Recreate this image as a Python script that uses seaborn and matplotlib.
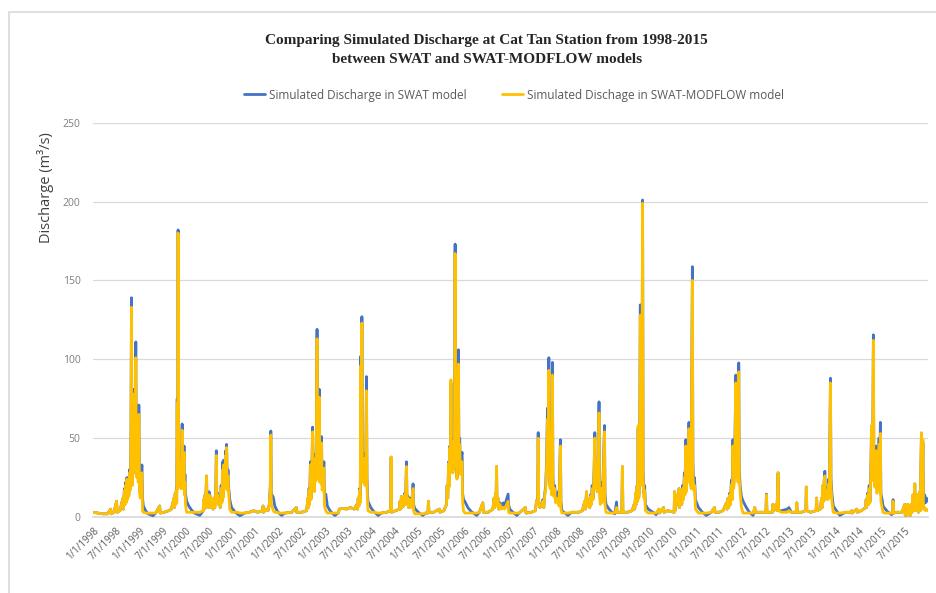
import matplotlib
matplotlib.use("Agg")
import matplotlib.pyplot as plt
from matplotlib.patches import Rectangle
from matplotlib.lines import Line2D
import pandas as pd
import seaborn as sns

# Simulated discharge (m3/s) at Cat Tan station, one line of values per year
dates = [
    "1998-01-01","1998-02-10","1998-03-20","1998-04-25","1998-05-20","1998-05-24","1998-06-15","1998-07-06","1998-07-10","1998-08-01","1998-08-25","1998-08-29","1998-09-05","1998-09-09","1998-09-15","1998-09-19","1998-09-25","1998-09-29","1998-10-05","1998-10-10","1998-10-16","1998-10-22","1998-10-27","1998-10-31","1998-11-03","1998-11-08","1998-11-14","1998-11-20","1998-11-24","1998-11-29","1998-12-04","1998-12-08","1998-12-13","1998-12-18","1998-12-23","1998-12-28",
    "1999-01-02","1999-01-08","1999-01-14","1999-01-21","1999-01-26","1999-02-01","1999-02-20","1999-03-10","1999-04-19","1999-05-10","1999-06-10","1999-06-14","1999-07-15","1999-08-20","1999-09-10","1999-10-01","1999-10-05","1999-10-10","1999-10-14","1999-10-19","1999-10-22","1999-10-26","1999-10-29","1999-11-02","1999-11-06","1999-11-10","1999-11-17","1999-11-24","1999-12-04","1999-12-09","1999-12-14","1999-12-19","1999-12-22","1999-12-26","1999-12-30",
    "2000-01-08","2000-01-25","2000-02-15","2000-03-10","2000-04-21","2000-05-18","2000-05-22","2000-05-26","2000-06-01","2000-06-05","2000-06-13","2000-06-17","2000-06-23","2000-06-28","2000-07-03","2000-07-07","2000-07-14","2000-07-20","2000-07-27","2000-08-03","2000-08-10","2000-08-17","2000-08-25","2000-08-29","2000-09-02","2000-09-08","2000-09-15","2000-09-22","2000-09-29","2000-10-06","2000-10-12","2000-10-18","2000-10-21","2000-10-25","2000-11-02","2000-11-10","2000-11-14","2000-11-18","2000-11-23","2000-11-29","2000-12-05","2000-12-13","2000-12-27",
    "2001-01-20","2001-02-10","2001-03-03","2001-04-10","2001-05-15","2001-06-20","2001-07-20","2001-08-25","2001-09-01","2001-09-05","2001-09-25","2001-10-10","2001-10-20","2001-10-28","2001-11-01","2001-11-05","2001-11-20","2001-12-02","2001-12-20",
    "2002-01-10","2002-01-25","2002-02-20","2002-04-15","2002-05-20","2002-05-24","2002-07-01","2002-08-10","2002-08-20","2002-08-24","2002-08-29","2002-09-02","2002-09-09","2002-09-13","2002-09-19","2002-09-26","2002-09-30","2002-10-05","2002-10-11","2002-10-17","2002-10-23","2002-10-31","2002-11-04","2002-11-10","2002-11-17","2002-11-21","2002-11-28","2002-12-05","2002-12-10","2002-12-16","2002-12-24","2002-12-28",
    "2003-01-08","2003-01-20","2003-02-10","2003-03-05","2003-03-20","2003-04-15","2003-04-25","2003-05-20","2003-06-20","2003-07-20","2003-08-20","2003-09-10","2003-09-15","2003-09-20","2003-09-25","2003-10-01","2003-10-06","2003-10-11","2003-10-15","2003-10-19","2003-10-23","2003-10-29","2003-11-05","2003-11-12","2003-11-18","2003-11-24","2003-11-28","2003-12-02","2003-12-06","2003-12-28",
    "2004-01-20","2004-02-24","2004-03-20","2004-05-01","2004-06-01","2004-06-05","2004-06-09","2004-07-10","2004-08-10","2004-08-14","2004-08-18","2004-08-25","2004-08-30","2004-09-05","2004-09-12","2004-09-20","2004-09-26","2004-10-04","2004-10-08","2004-10-15","2004-10-22","2004-10-30","2004-11-06","2004-11-15","2004-11-25","2004-11-29","2004-12-08",
    "2005-01-05","2005-02-10","2005-03-01","2005-03-22","2005-03-26","2005-03-30","2005-05-05","2005-06-20","2005-06-24","2005-07-25","2005-08-15","2005-08-20","2005-08-25","2005-09-01","2005-09-05","2005-09-11","2005-09-15","2005-09-19","2005-09-23","2005-09-29","2005-10-05","2005-10-11","2005-10-16","2005-10-22","2005-10-26","2005-11-01","2005-11-06","2005-11-10","2005-11-17","2005-11-21","2005-11-27","2005-12-03","2005-12-09","2005-12-16","2005-12-20","2005-12-27",
    "2006-01-06","2006-01-30","2006-02-25","2006-04-10","2006-05-01","2006-05-28","2006-06-02","2006-07-10","2006-08-15","2006-08-25","2006-08-29","2006-09-05","2006-09-09","2006-09-13","2006-09-17","2006-09-24","2006-10-01","2006-10-10","2006-10-20","2006-11-05","2006-11-15","2006-12-13","2006-12-17","2006-12-25",
    "2007-01-20","2007-02-20","2007-03-10","2007-04-28","2007-05-03","2007-06-15","2007-07-15","2007-07-25","2007-08-03","2007-08-07","2007-08-11","2007-08-20","2007-09-05","2007-09-13","2007-09-20","2007-09-28","2007-10-05","2007-10-12","2007-10-19","2007-10-23","2007-10-30","2007-11-03","2007-11-09","2007-11-15","2007-11-20","2007-11-27","2007-12-01","2007-12-08","2007-12-15","2007-12-22",
    "2008-01-11","2008-01-18","2008-01-29","2008-02-02","2008-02-10","2008-03-28","2008-04-25","2008-05-22","2008-06-20","2008-07-20","2008-08-08","2008-08-12","2008-08-22","2008-08-26","2008-09-12","2008-09-16","2008-09-22","2008-09-27","2008-10-05","2008-10-12","2008-10-20","2008-10-26","2008-10-30","2008-11-06","2008-11-12","2008-11-20","2008-11-28","2008-12-02","2008-12-08","2008-12-16","2008-12-21","2008-12-28",
    "2009-01-10","2009-01-14","2009-01-22","2009-02-15","2009-03-10","2009-04-01","2009-04-15","2009-04-19","2009-05-26","2009-05-31","2009-06-04","2009-07-10","2009-08-15","2009-09-01","2009-09-05","2009-09-12","2009-09-17","2009-09-24","2009-09-28","2009-10-02","2009-10-06","2009-10-12","2009-10-19","2009-10-23","2009-10-30","2009-11-06","2009-11-10","2009-11-17","2009-11-22","2009-11-28","2009-12-20",
    "2010-01-27","2010-02-20","2010-03-15","2010-03-19","2010-04-20","2010-04-24","2010-05-25","2010-07-12","2010-07-16","2010-07-20","2010-08-20","2010-08-24","2010-08-30","2010-09-05","2010-09-10","2010-09-18","2010-09-24","2010-10-01","2010-10-05","2010-10-12","2010-10-16","2010-10-23","2010-10-31","2010-11-06","2010-11-10","2010-11-17","2010-11-23","2010-12-03","2010-12-07","2010-12-13","2010-12-20","2010-12-27",
    "2011-01-20","2011-02-20","2011-03-22","2011-05-01","2011-05-26","2011-05-30","2011-07-01","2011-08-01","2011-08-28","2011-09-02","2011-09-10","2011-09-15","2011-09-22","2011-09-28","2011-10-05","2011-10-11","2011-10-14","2011-10-18","2011-10-24","2011-10-31","2011-11-10","2011-11-14","2011-11-21","2011-11-27","2011-12-03","2011-12-07","2011-12-14","2011-12-24",
    "2012-01-06","2012-02-01","2012-02-25","2012-03-25","2012-04-07","2012-04-11","2012-05-20","2012-07-04","2012-07-08","2012-07-12","2012-08-24","2012-08-28","2012-09-01","2012-09-25","2012-09-29","2012-10-08","2012-10-12","2012-11-03","2012-12-20",
    "2013-01-01","2013-01-20","2013-02-27","2013-03-04","2013-03-08","2013-04-10","2013-05-14","2013-05-18","2013-05-22","2013-06-20","2013-08-03","2013-08-07","2013-08-11","2013-09-05","2013-09-15","2013-09-20","2013-09-25","2013-09-30","2013-10-05","2013-10-11","2013-10-15","2013-10-20","2013-10-29","2013-11-03","2013-11-10","2013-11-15","2013-11-24","2013-11-28","2013-12-05","2013-12-16",
    "2014-01-10","2014-02-06","2014-03-20","2014-05-06","2014-05-10","2014-05-14","2014-06-20","2014-06-24","2014-07-25","2014-08-28","2014-09-01","2014-09-05","2014-09-12","2014-09-18","2014-09-25","2014-10-01","2014-10-08","2014-10-13","2014-10-17","2014-10-22","2014-10-28","2014-11-01","2014-11-08","2014-11-15","2014-11-21","2014-11-25","2014-12-02","2014-12-12","2014-12-16","2014-12-22","2014-12-26",
    "2015-01-05","2015-01-12","2015-01-20","2015-02-15","2015-03-20","2015-03-28","2015-04-01","2015-04-05","2015-05-01","2015-06-10","2015-07-02","2015-07-06","2015-07-12","2015-07-18","2015-07-25","2015-08-01","2015-08-08","2015-08-15","2015-08-22","2015-08-28","2015-09-04","2015-09-10","2015-09-19","2015-09-24","2015-10-05","2015-10-12","2015-10-18","2015-10-27","2015-10-31","2015-11-10","2015-11-14","2015-11-22","2015-11-26","2015-12-06","2015-12-12","2015-12-20","2015-12-31",
]

swat = [
    3,2.5,2,2,5,2,3,10,3,4,12,5,18,8,22,10,25,12,20,14,30,18,55,139,40,22,45,81,30,50,111,35,28,45,25,71,
    20,15,18,33,12,7,4,2,0.8,2.5,7,2.5,3,4,5,12,6,15,8,18,10,75,20,182,40,25,30,20,59,22,30,45,18,27,15,
    10,7,4.5,2.5,1,4,11,5,14,6,26,8,12,6,16,7,13,6,10,5,12,6,20,42,10,15,8,12,6,20,10,35,14,36,20,42,22,46,20,30,18,11,6,
    3.5,2,0.8,2.5,3,4,3,4,7,3,5,4,8,20,54.5,15,12.6,7,4,
    2,1,2.5,3,6,3,3,4,12,6,18,8,35,12,25,57,20,30,18,40,25,119,35,28,81,25,30,51,20,25,35,12,
    14.5,7,4,2,1,2.5,5,5.5,5,6,5,8,5,12,7,18,10,102,30,127,35,25,40,22,30,89,25,15,10,6,
    3.5,1,2.5,3,4,38,3,4,5,10,5,13,6,11,7,15,8,35,10,13,6,12,7,10,21,8,5.5,
    3,1,2.5,2.5,10,3,3,5,3,4,8,20,12,35,20,45,30,85,40,50,30,48,35,173,45,50,25,48,106,40,50,30,38,41,15,11,
    10,6,3.5,1,3,9,3,3,5,12,6,15,7,32,8,12,5,9,7,9,7,14.5,8,5,
    3,1,2.5,6,2.5,3,4,10,12,53.5,10,6,8,11,6,15,20,35,69,30,101,30,20,40,16,98,25,15,20,10,
    16,10,49,10,4,1,3,3,3,4,10,5,16,7,11,6,14,8,20,12,30,53.5,20,35,18,22,73,20,11,22,12,20,
    58,15,8,5,3,2,9.5,3,3,32,3,3,4,8,5,15,8,20,10,56,12,18,134.5,30,22,201,30,15,20,8,5,
    3,1.5,5,2.5,6,3,4,3,16,4,18,6,10,16,8,20,12,28,15,49,18,30,26,60,25,35,20,158.7,35,20,25,11,
    6,3,1,3,6,3,3,4,9,5,12,6,15,8,22,24,12,49,20,30,90,30,40,25,97.7,30,20,13,
    10,6,3,1,6,3,3,3,14.5,3,3,8,4,8,4,28,4,4,5,
    6,3,3,9,3,3,4,19,4,3,4,12,4,5,12,6,20,10,22,29,12,18,19,12,24,14,88,25,15,7,
    4,1,3,3,4,2.5,5,3,4,6,11,6,15,8,20,10,30,55,25,35,115.5,30,22,30,45,18,25,50,20,60,15,
    11,7,6,3.5,1.5,2.5,11,2.5,3,3,8,1,6,1,8,2,7,1,8,3,14,4,21,4,8,14,3,16,4,50,8,47,8,14,9,12,10,
]

swat_modflow = [
    3,2.5,2,2,5,2,3,10,3,4,12,5,17,8,20,9,24,11,19,13,28,17,52,133,38,20,42,78,28,47,101,32,25,42,22,65,
    16,12,14,28,4,3,2.5,2.5,2.5,2.5,7,2.5,3,4,5,12,6,15,8,17,9,72,18,180,37,22,27,18,55,18,27,41,14,22,8,
    3,3,3,3,3,4,11,5,14,6,26,8,12,6,14,7,13,6,10,5,12,6,18,39,9,14,8,11,6,18,9,30,12,33,18,39,20,44,17,26,14,5,3,
    3,3,2.5,2.5,3,4,3,4,7,3,5,4,8,18,52,8,4,3,3,
    2.5,2.5,2.5,3,6,3,3,4,12,6,17,8,33,11,23,54,18,28,16,37,23,113,32,25,76,22,27,47,17,22,31,7,
    4,2.5,2.5,2.5,2.5,2.5,5,5.5,5,6,5,8,5,12,7,17,9,96,27,123,32,22,37,20,27,80,22,10,4,3,
    3,2.5,2.5,3,4,38,3,4,5,10,5,13,6,11,7,14,8,32,9,12,6,11,6,9,18,4,2,
    2,2,2.5,2.5,10,3,3,5,3,4,8,20,12,34,19,44,28,87,38,48,28,45,32,167,42,47,24,45,97,36,46,27,34,35,10,4,
    2.5,2.5,2.5,2.5,3,9,3,3,5,12,6,15,7,32,8,12,5,8,5,6,5,10,3,2.5,
    2.5,2.5,2.5,6,2.5,3,4,10,11,50,9,6,8,10,6,14,18,32,62,27,93,27,18,36,14,90,22,13,18,9,
    12,7,45,5,2.5,2.5,3,3,3,4,10,5,16,7,11,6,13,8,18,11,28,50,18,35,16,18,66,17,8,18,9,16,
    54,8,3,2.5,2.5,2.5,6,3,3,32,3,3,4,8,5,15,8,20,10,58,12,17,128,27,20,199,26,12,17,4,2.5,
    2.5,2.5,5,2.5,6,3,4,3,16,4,18,6,10,16,8,18,11,25,14,45,16,27,24,56,22,32,18,150,30,17,20,5,
    2.5,2.5,2.5,3,6,3,3,4,9,5,12,6,14,8,20,21,11,45,18,27,85,26,36,22,92,25,16,6,
    2.5,2.5,2.5,2.5,6,3,3,3,14,3,3,8,4,8,4,28,4,3,3,
    4,3,3,9,3,3,4,19,4,3,4,12,4,5,12,6,20,10,22,26,11,17,16,11,21,12,85,20,10,3,
    2.5,2.5,3,3,4,2.5,5,3,4,6,11,6,14,8,18,9,28,58,23,32,112,27,19,27,42,15,22,46,17,53,10,
    6,3,2.5,2.5,2.5,2.5,10,2.5,3,3,8,1,6,1,8,2,7,1,8,3,14,4,21,4,8,14,3,16,4,53.5,6,49,5,6,4,5,4,
]

series_names = ["Simulated Discharge in SWAT model", "Simulated Dischage in SWAT-MODFLOW model"]
series_colors = ["#4472C4", "#FFC000"]
title_text = ("Comparing Simulated Discharge at Cat Tan Station from 1998-2015\n"
              "between SWAT and SWAT-MODFLOW models")
y_label = "Discharge (m³/s)"
y_ticks = [0, 50, 100, 150, 200, 250]

assert len(dates) == len(swat) == len(swat_modflow)

sns.set_theme(style="white")
plt.rcParams["font.family"] = ["Open Sans", "DejaVu Sans"]

t = pd.to_datetime(dates)
df = pd.DataFrame({"date": t, "swat": swat, "swat_modflow": swat_modflow})

W, H = 936, 593
fig = plt.figure(figsize=(W / 100, H / 100), dpi=100)
left, right, top, bottom = 93, 928, 122.7, 517
ax = fig.add_axes([left / W, 1 - bottom / H, (right - left) / W, (bottom - top) / H])

sns.lineplot(data=df, x="date", y="swat", color=series_colors[0], lw=2.0,
             estimator=None, ax=ax, zorder=3)
sns.lineplot(data=df, x="date", y="swat_modflow", color=series_colors[1], lw=2.0,
             estimator=None, ax=ax, zorder=4)

ax.set_xlim(pd.Timestamp("1998-01-01"), pd.Timestamp("2016-01-01"))
ax.set_ylim(0, 250)
ax.set_yticks(y_ticks)
ax.set_yticklabels([str(v) for v in y_ticks])

tick_dates = pd.date_range("1998-01-01", "2015-07-01", freq="6MS")
ax.set_xticks(tick_dates)
ax.set_xticklabels([f"{d.month}/{d.day}/{d.year}" for d in tick_dates],
                   rotation=45, ha="right", rotation_mode="anchor")
ax.set_xlabel("")
ax.set_ylabel("")

ax.yaxis.grid(True, color="#d9d9d9", lw=0.9)
ax.xaxis.grid(False)
ax.set_axisbelow(True)
for s in ["top", "right", "left"]:
    ax.spines[s].set_visible(False)
ax.spines["bottom"].set_color("#d9d9d9")
ax.tick_params(axis="x", length=3, color="#bfbfbf", labelsize=7, labelcolor="#595959", pad=3)
ax.tick_params(axis="y", length=0, labelsize=7.5, labelcolor="#7f7f7f", pad=9)

fig.text(0.520, 1 - 50 / H, title_text, ha="center", va="center", fontsize=11,
         fontweight="bold", family=["Liberation Serif", "DejaVu Serif"], color="#262626",
         linespacing=1.55)

handles = [Line2D([], [], color=c, lw=2) for c in series_colors]
fig.legend(handles, series_names, loc="center", bbox_to_anchor=(514 / W, 1 - 95 / H),
           ncol=2, frameon=False, fontsize=8.5, handlelength=1.8, handletextpad=0.3,
           columnspacing=3.0, labelcolor="#595959")

fig.text(45 / W, 1 - 188 / H, y_label, rotation=90, ha="center", va="center",
         fontsize=10.5, color="#404040")

fig.add_artist(Rectangle((9 / W, -0.1), 1.2, 1 - 12 / H + 0.1, transform=fig.transFigure,
                         fill=False, edgecolor="#d9d9d9", lw=1.2))

fig.savefig("out.png", dpi=100)
